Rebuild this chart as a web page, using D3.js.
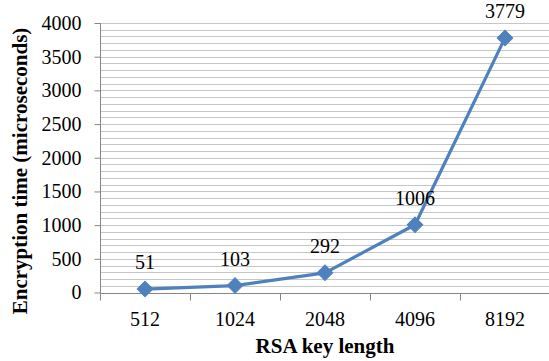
<!DOCTYPE html>
<html>
<head>
<meta charset="utf-8">
<script src="https://cdn.jsdelivr.net/npm/d3@7"></script>
<style>
  html, body { margin: 0; padding: 0; background: #fff; }
  svg { display: block; }
</style>
</head>
<body>
<svg id="chart" width="549" height="361"></svg>
<script>
// RSA encryption time by key length
const keyLengths = ["512", "1024", "2048", "4096", "8192"];
const encryptionTimes = [51, 103, 292, 1006, 3779];
const yTicks = [0, 500, 1000, 1500, 2000, 2500, 3000, 3500, 4000];
const xTitle = "RSA key length";
const yTitle = "Encryption time (microseconds)";

const FONT = "Liberation Serif";
const svg = d3.select("#chart");
const plotLeft = 100, plotRight = 550, plotTop = 23, plotBottom = 292.5;

const x = d3.scaleBand().domain(keyLengths).range([plotLeft, plotRight]).padding(0);
const y = d3.scaleLinear().domain([0, 4000]).range([plotBottom, plotTop]);

// Minor gridlines every 100, major every 500
const gridVals = d3.range(100, 4001, 100);
svg.append("g")
  .selectAll("line")
  .data(gridVals)
  .join("line")
  .attr("x1", plotLeft).attr("x2", plotRight)
  .attr("y1", d => Math.round(y(d)) + 0.5)
  .attr("y2", d => Math.round(y(d)) + 0.5)
  .attr("stroke", "#c6c6c6")
  .attr("stroke-width", 1);

// Y axis
const yAxis = svg.append("g")
  .attr("transform", `translate(${plotLeft + 0.5},0)`)
  .call(d3.axisLeft(y).tickValues(yTicks).tickSize(6).tickPadding(13).tickFormat(d3.format("d")));
yAxis.attr("font-family", FONT).attr("font-size", 20);
yAxis.select(".domain").attr("stroke", "#868686").attr("d", `M0,${plotTop}V${plotBottom + 7}`);
yAxis.selectAll(".tick line").attr("stroke", "#868686");
yAxis.selectAll(".tick text")
  .attr("font-family", FONT)
  .attr("font-size", 20)
  .attr("fill", "#000");

// X axis with tick marks at category boundaries
const xAxisG = svg.append("g").attr("transform", `translate(0,${Math.round(plotBottom) + 0.5})`);
xAxisG.append("line")
  .attr("x1", plotLeft).attr("x2", plotRight)
  .attr("stroke", "#868686");
const boundaries = keyLengths.map(k => x(k)).concat([plotRight]);
xAxisG.selectAll("line.tk")
  .data(boundaries)
  .join("line")
  .attr("class", "tk")
  .attr("x1", d => Math.round(d) + 0.5).attr("x2", d => Math.round(d) + 0.5)
  .attr("y1", 0).attr("y2", 7)
  .attr("stroke", "#868686");
xAxisG.selectAll("text")
  .data(keyLengths)
  .join("text")
  .attr("x", d => x(d) + x.bandwidth() / 2)
  .attr("y", 32)
  .attr("text-anchor", "middle")
  .attr("font-family", FONT)
  .attr("font-size", 20)
  .attr("fill", "#000")
  .text(d => d);

// Axis titles
svg.append("text")
  .attr("x", 325).attr("y", 353)
  .attr("text-anchor", "middle")
  .attr("font-family", FONT)
  .attr("font-size", 21)
  .attr("font-weight", "bold")
  .text(xTitle);

svg.append("text")
  .attr("transform", "translate(27,171) rotate(-90)")
  .attr("text-anchor", "middle")
  .attr("font-family", FONT)
  .attr("font-size", 21)
  .attr("font-weight", "bold")
  .text(yTitle);

// Series line
const pts = keyLengths.map((k, i) => ({ k, v: encryptionTimes[i] }));
const cx = d => x(d.k) + x.bandwidth() / 2;

svg.append("path")
  .datum(pts)
  .attr("fill", "none")
  .attr("stroke", "#4f81bd")
  .attr("stroke-width", 3.2)
  .attr("stroke-linejoin", "round")
  .attr("d", d3.line().x(cx).y(d => y(d.v)));

// Diamond markers
svg.append("g")
  .selectAll("rect")
  .data(pts)
  .join("rect")
  .attr("x", -5.5).attr("y", -5.5)
  .attr("width", 11).attr("height", 11)
  .attr("fill", "#4f81bd")
  .attr("stroke", "#4f81bd")
  .attr("stroke-width", 1)
  .attr("transform", d => `translate(${cx(d)},${y(d.v)}) rotate(45)`);

// Value labels
svg.append("g")
  .selectAll("text")
  .data(pts)
  .join("text")
  .attr("x", cx)
  .attr("y", d => y(d.v) - 20)
  .attr("text-anchor", "middle")
  .attr("font-family", FONT)
  .attr("font-size", 20)
  .attr("fill", "#000")
  .text(d => d.v);
</script>
</body>
</html>
